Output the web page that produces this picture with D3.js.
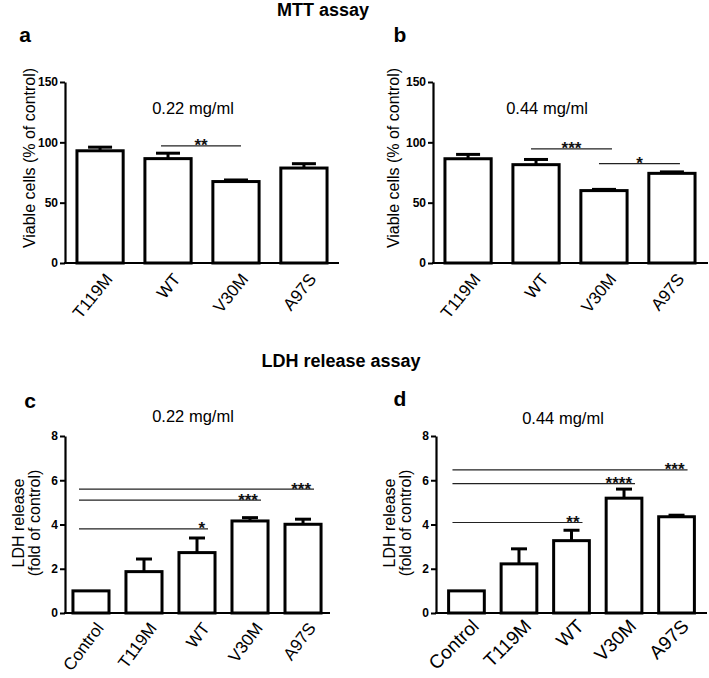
<!DOCTYPE html>
<html><head><meta charset="utf-8">
<script src="https://cdn.jsdelivr.net/npm/d3@7/dist/d3.min.js"></script>
<style>body{margin:0;background:#fff}svg{display:block;font-family:"Liberation Sans",Arial,Helvetica,sans-serif}</style>
</head><body><svg id="c" width="709" height="678"></svg>
<script>
// ---- Data ----
const mttCategories = ["T119M", "WT", "V30M", "A97S"];
const mtt022Values = [93, 86.5, 67.5, 78.7];
const mtt022ErrTop = [96, 91, 68.8, 82.3];
const mtt044Values = [86.4, 81.5, 60, 74.3];
const mtt044ErrTop = [90, 85.8, 61, 75.5];
const mttTicks = [0, 50, 100, 150];

const ldhCategories = ["Control", "T119M", "WT", "V30M", "A97S"];
const ldh022Values = [1.0, 1.87, 2.73, 4.16, 4.01];
const ldh022ErrTop = [1.0, 2.44, 3.39, 4.31, 4.24];
const ldh044Values = [1.0, 2.22, 3.27, 5.19, 4.35];
const ldh044ErrTop = [1.0, 2.9, 3.74, 5.6, 4.42];
const ldhTicks = [0, 2, 4, 6, 8];

// significance: [from, to, yValue, stars]
const sigA = [["WT", "V30M", 97, "**"]];
const sigB = [["WT", "V30M", 94.5, "***"], ["V30M", "A97S", 82.3, "*"]];
const sigC = [["Control", "A97S", 5.6, "***"], ["Control", "V30M", 5.1, "***"], ["Control", "WT", 3.8, "*"]];
const sigD = [["Control", "A97S", 6.47, "***"], ["Control", "V30M", 5.85, "****"], ["Control", "WT", 4.09, "**"]];

const svg = d3.select("#c");

function panel(o) {
  const g = svg.append("g");
  const x = d3.scaleBand().domain(o.cats).range([o.x0, o.x1]).paddingInner(0.32).paddingOuter(o.po);
  const y = d3.scaleLinear().domain(o.domain).range([o.yb, o.yt]);
  const bw = x.bandwidth();

  // bars
  g.selectAll(".bar").data(o.cats).enter().append("rect")
    .attr("x", d => x(d)).attr("y", (d, i) => y(o.vals[i]))
    .attr("width", bw).attr("height", (d, i) => y(0) - y(o.vals[i]))
    .attr("fill", "#fff").attr("stroke", "#000").attr("stroke-width", 3);

  // error bars
  o.cats.forEach((c, i) => {
    if (o.err[i] - o.vals[i] < 0.001 * (o.domain[1])) return;
    const cx = x(c) + bw / 2;
    g.append("line").attr("x1", cx).attr("x2", cx).attr("y1", y(o.vals[i])).attr("y2", y(o.err[i]))
      .attr("stroke", "#000").attr("stroke-width", 3);
    g.append("line").attr("x1", cx - o.cap / 2).attr("x2", cx + o.cap / 2).attr("y1", y(o.err[i])).attr("y2", y(o.err[i]))
      .attr("stroke", "#000").attr("stroke-width", 3);
  });

  // y axis
  const ya = g.append("g").attr("transform", `translate(${o.x0},0)`)
    .call(d3.axisLeft(y).tickValues(o.ticks).tickSize(5).tickSizeOuter(0).tickPadding(2));
  ya.select(".domain").attr("stroke-width", 2.2);
  ya.selectAll(".tick line").attr("stroke-width", 2);
  ya.selectAll(".tick text").attr("font-size", 12).attr("font-weight", "bold").attr("font-family", "Liberation Sans, Arial, sans-serif").attr("fill", "#000");

  // x axis line
  g.append("line").attr("x1", o.x0 - 1).attr("x2", o.xEnd).attr("y1", y(0)).attr("y2", y(0))
    .attr("stroke", "#000").attr("stroke-width", 2.2);

  // x labels
  o.cats.forEach(c => {
    const cx = x(c) + bw / 2 + 4;
    g.append("text").text(c).attr("transform", `translate(${cx},${y(0) + o.xoff}) rotate(${o.rot})`)
      .attr("text-anchor", "end").attr("font-size", o.xfs).attr("dy", "0.7em").attr("fill", "#000");
  });

  // significance
  o.sig.forEach(s => {
    const xa = x(s[0]) + bw / 2 + o.sigStart;
    const xb = x(s[1]) + bw / 2 + o.sigEnd;
    const yy = y(s[2]);
    g.append("line").attr("x1", xa).attr("x2", xb).attr("y1", yy).attr("y2", yy)
      .attr("stroke", "#222").attr("stroke-width", 1.2);
    const t = g.append("text").text(s[3]).attr("y", yy + 5.5).attr("font-size", 17).attr("font-weight", "bold").attr("fill", "#111");
    if (o.starsMid) t.attr("x", (xa + xb) / 2).attr("text-anchor", "middle");
    else t.attr("x", xb - 3).attr("text-anchor", "end");
  });

  // y label
  const ly = o.ylc;
  o.ylab.forEach((l, i) => {
    g.append("text").text(l).attr("transform", `translate(${o.ylx[i]},${ly}) rotate(-90)`)
      .attr("text-anchor", "middle").attr("dy", "0.35em").attr("font-size", 16).attr("fill", "#000");
  });

  // concentration label
  g.append("text").text(o.conc).attr("x", o.cx).attr("y", o.cy).attr("text-anchor", "middle")
    .attr("dy", "0.35em").attr("font-size", 16.5).attr("fill", "#000");

  // panel letter
  g.append("text").text(o.letter).attr("x", o.lx).attr("y", o.ly).attr("text-anchor", "middle")
    .attr("font-size", 21).attr("font-weight", "bold").attr("fill", "#000");
}

svg.append("text").text("MTT assay").attr("x", 323).attr("y", 16).attr("text-anchor", "middle")
  .attr("font-size", 18).attr("font-weight", "bold");
svg.append("text").text("LDH release assay").attr("x", 341).attr("y", 367).attr("text-anchor", "middle")
  .attr("font-size", 18).attr("font-weight", "bold");

panel({cats: mttCategories, vals: mtt022Values, err: mtt022ErrTop, ticks: mttTicks, domain: [0, 150],
  x0: 65, x1: 339, xEnd: 339, po: 0.176, yb: 263, yt: 82, cap: 24, rot: -51, xfs: 17, xoff: 9,
  sig: sigA, sigStart: -7, sigEnd: 5, starsMid: true,
  ylab: ["Viable cells (% of control)"], ylx: [29], ylc: 158, conc: "0.22 mg/ml", cx: 193, cy: 108, letter: "a", lx: 25, ly: 42});
panel({cats: mttCategories, vals: mtt044Values, err: mtt044ErrTop, ticks: mttTicks, domain: [0, 150],
  x0: 433, x1: 707, xEnd: 708, po: 0.176, yb: 263, yt: 82, cap: 24, rot: -51, xfs: 17, xoff: 9,
  sig: sigB, sigStart: -5, sigEnd: 8, starsMid: true,
  ylab: ["Viable cells (% of control)"], ylx: [393], ylc: 158, conc: "0.44 mg/ml", cx: 547, cy: 108, letter: "b", lx: 400, ly: 42});
panel({cats: ldhCategories, vals: ldh022Values, err: ldh022ErrTop, ticks: ldhTicks, domain: [0, 8],
  x0: 65, x1: 329, xEnd: 330, po: 0.15, yb: 613, yt: 436, cap: 16, rot: -53, xfs: 17, xoff: 8,
  sig: sigC, sigStart: -12, sigEnd: 11, starsMid: false,
  ylab: ["LDH release", "(fold of control)"], ylx: [18, 34], ylc: 523, conc: "0.22 mg/ml", cx: 193, cy: 416, letter: "c", lx: 30, ly: 408});
panel({cats: ldhCategories, vals: ldh044Values, err: ldh044ErrTop, ticks: ldhTicks, domain: [0, 8],
  x0: 436, x1: 707, xEnd: 707, po: 0.24, yb: 613, yt: 436, cap: 16, rot: -45, xfs: 19, xoff: 5,
  sig: sigD, sigStart: -14, sigEnd: 11, starsMid: false,
  ylab: ["LDH release", "(fold of control)"], ylx: [389, 405], ylc: 523, conc: "0.44 mg/ml", cx: 563, cy: 418, letter: "d", lx: 400, ly: 406});
</script></body></html>
